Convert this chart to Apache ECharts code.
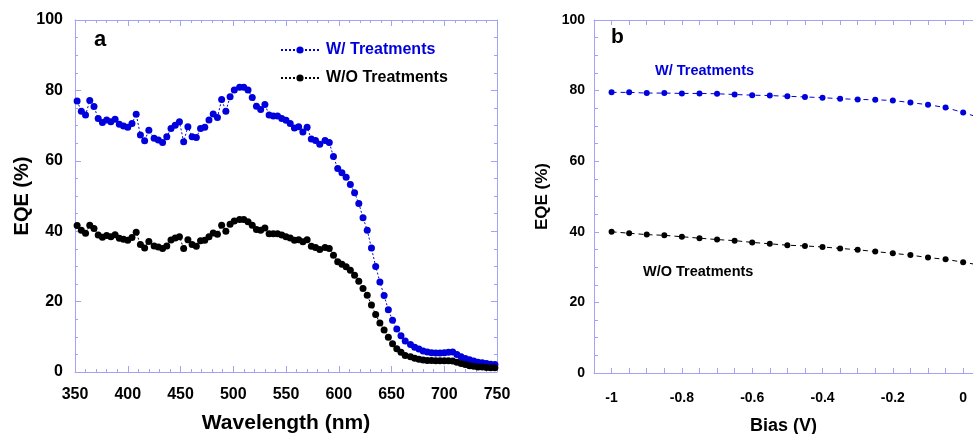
<!DOCTYPE html>
<html>
<head>
<meta charset="utf-8">
<script src="https://cdn.jsdelivr.net/npm/echarts@6/dist/echarts.min.js"></script>
<style>
html,body{margin:0;padding:0;background:#fff;}
#chart{width:973px;height:434px;}
</style>
</head>
<body>
<div id="chart"></div>
<script>
// ---------- Panel a: EQE spectrum ----------
var wavelength = [
 352,356,360,364,368,372,376,380,384,388,
 392,396,400,404,408,412,416,420,425,429,
 433,437,441,445,449,453,457,461,465,469,
 473,477,481,485,489,493,497,501,506,510,
 514,518,522,526,530,534,538,542,546,550,
 554,558,562,566,570,574,578,582,587,591,
 595,599,603,607,611,615,619,623,627,631,
 635,639,643,647,651,655,659,663,668,672,
 676,680,684,688,692,696,700,704,708,712,
 716,720,724,728,732,736,740,744,748
];
var eqeWith = [
 77.0,74.1,73.0,77.1,75.4,72.0,70.9,71.6,71.1,71.8,
 70.4,69.9,69.5,70.6,73.2,67.3,65.7,68.7,66.4,65.9,
 65.2,66.8,69.2,70.1,71.1,65.4,69.7,66.8,66.6,69.2,
 69.5,71.6,73.3,72.3,77.4,74.1,78.2,80.1,80.9,80.9,
 80.1,78.0,75.5,74.6,76.0,73.0,72.7,72.7,72.0,71.5,
 70.6,69.3,69.7,68.2,69.5,66.2,65.8,64.7,65.8,65.2,
 61.2,57.8,56.6,55.3,53.3,50.9,47.9,43.8,40.3,35.2,
 30.0,25.6,21.7,17.7,14.7,12.2,10.3,8.8,7.8,7.0,
 6.5,6.0,5.7,5.5,5.4,5.4,5.5,5.6,5.7,5.0,
 4.3,3.8,3.5,3.1,2.8,2.6,2.4,2.2,2.1
];
var eqeWithout = [
 41.6,40.3,39.4,41.7,40.8,38.9,38.3,38.8,38.4,39.0,
 38.0,37.7,37.4,38.2,39.7,36.2,35.2,37.1,35.8,35.5,
 35.1,35.8,37.5,38.1,38.4,35.1,37.6,36.2,35.7,37.3,
 37.4,38.4,39.5,39.1,41.7,40.0,42.0,42.9,43.3,43.3,
 42.7,41.7,40.5,40.3,40.9,39.3,39.3,39.3,38.9,38.4,
 38.1,37.4,37.6,37.0,37.6,35.7,35.4,34.8,35.4,35.1,
 33.2,31.3,30.6,29.9,28.9,27.5,25.8,23.7,21.8,19.0,
 16.3,13.9,11.9,9.9,8.0,6.6,5.6,4.7,4.3,3.9,
 3.6,3.4,3.3,3.3,3.2,3.2,3.2,3.2,3.1,2.8,
 2.4,2.1,1.8,1.6,1.4,1.4,1.3,1.2,1.2
];
// ---------- Panel b: EQE vs bias ----------
var bias = [-1,-0.95,-0.9,-0.85,-0.8,-0.75,-0.7,-0.65,-0.6,-0.55,-0.5,-0.45,-0.4,-0.35,-0.3,-0.25,-0.2,-0.15,-0.1,-0.05,0,0.05];
var biasWith = [79.5,79.5,79.3,79.3,79.2,79.2,79.1,78.9,78.7,78.6,78.4,78.2,78.0,77.7,77.5,77.4,77.2,76.6,76.0,75.2,73.8,72.2];
var biasWithout = [40.0,39.6,39.2,39.0,38.6,38.2,37.8,37.5,37.0,36.6,36.2,36.0,35.7,35.3,34.9,34.4,33.9,33.4,32.7,32.2,31.4,30.5];

var seriesNames = ['W/ Treatments', 'W/O Treatments'];
var xTicksA = [350, 750, 50];
var xRangeB = [-1.05, 0.028, 0.05];
var yTicks = [0, 100, 20];

var BLUE = '#0000dc';
var BLACK = '#000000';
var AXIS = '#a3a3f5';
var FONT = '"Liberation Sans", Arial, Helvetica, sans-serif';

function pairs(xs, ys){ return xs.map(function(x,i){ return [x, ys[i]]; }); }

var chart = echarts.init(document.getElementById('chart'), null, {renderer:'canvas'});

function axisBase(){
  return {
    axisLine:{show:true, onZero:false, lineStyle:{color:AXIS, width:1}},
    splitLine:{show:false},
    axisTick:{show:true, inside:true, length:6, lineStyle:{color:AXIS}},
    minorTick:{show:true, length:3, lineStyle:{color:AXIS}},
    axisLabel:{show:true, color:'#000', fontWeight:'bold', fontFamily:FONT}
  };
}
function merge(a,b){ for (var k in b){ a[k]=b[k]; } return a; }

var biasFormatter = function(v){
  var r = Math.round(v*5);
  if (Math.abs(v*5 - r) > 1e-6) return '';
  var val = r/5;
  return val === 0 ? '0' : String(val);
};

var option = {
  animation:false,
  backgroundColor:'#fff',
  textStyle:{fontFamily:FONT},
  grid:[
    {left:75, top:20, width:422, height:352, containLabel:false, outerBoundsMode:'none'},
    {left:594, top:20, right:0, height:353, containLabel:false, outerBoundsMode:'none'}
  ],
  legend:{
    show:true,
    orient:'vertical',
    left:275, top:36,
    itemWidth:38, itemHeight:9, itemGap:10,
    data:[
      {name:seriesNames[0], textStyle:{color:BLUE}},
      {name:seriesNames[1], textStyle:{color:BLACK}}
    ],
    textStyle:{fontFamily:FONT, fontWeight:'bold', fontSize:16, lineHeight:18, padding:[0,0,0,2]}
  },
  xAxis:[
    merge(axisBase(), {
      gridIndex:0, type:'value', position:'bottom',
      min:xTicksA[0], max:xTicksA[1], interval:xTicksA[2],
      minorTick:{show:true, splitNumber:5, length:3, lineStyle:{color:AXIS}},
      axisLabel:{show:true, color:'#000', fontWeight:'bold', fontFamily:FONT, fontSize:16, margin:15},
      name:'Wavelength (nm)', nameLocation:'middle', nameGap:41,
      nameTextStyle:{fontSize:21, fontWeight:'bold', color:'#000', fontFamily:FONT}
    }),
    merge(axisBase(), {
      gridIndex:0, type:'value', position:'top',
      min:xTicksA[0], max:xTicksA[1], interval:xTicksA[2],
      minorTick:{show:true, splitNumber:5, length:3, lineStyle:{color:AXIS}},
      axisLabel:{show:false}
    }),
    merge(axisBase(), {
      gridIndex:1, type:'value', position:'bottom',
      min:xRangeB[0], max:xRangeB[1], interval:xRangeB[2],
      axisTick:{show:true, inside:true, length:5, lineStyle:{color:AXIS}},
      minorTick:{show:false},
      axisLabel:{show:true, color:'#000', fontWeight:'bold', fontFamily:FONT, fontSize:14, margin:18, formatter:biasFormatter, showMaxLabel:false},
      name:'Bias (V)', nameLocation:'middle', nameGap:44,
      nameTextStyle:{fontSize:18, fontWeight:'bold', color:'#000', fontFamily:FONT}
    }),
    merge(axisBase(), {
      gridIndex:1, type:'value', position:'top',
      min:xRangeB[0], max:xRangeB[1], interval:xRangeB[2],
      axisTick:{show:true, inside:true, length:5, lineStyle:{color:AXIS}},
      minorTick:{show:false},
      axisLabel:{show:false}
    })
  ],
  yAxis:[
    merge(axisBase(), {
      gridIndex:0, type:'value', position:'left',
      min:yTicks[0], max:yTicks[1], interval:yTicks[2],
      minorTick:{show:true, splitNumber:4, length:3, lineStyle:{color:AXIS}},
      axisLabel:{show:true, color:'#000', fontWeight:'bold', fontFamily:FONT, fontSize:16, margin:12},
      name:'EQE (%)', nameLocation:'middle', nameGap:42,
      nameTextStyle:{fontSize:20, fontWeight:'bold', color:'#000', fontFamily:FONT}
    }),
    merge(axisBase(), {
      gridIndex:0, type:'value', position:'right',
      min:yTicks[0], max:yTicks[1], interval:yTicks[2],
      minorTick:{show:true, splitNumber:4, length:3, lineStyle:{color:AXIS}},
      axisLabel:{show:false}
    }),
    merge(axisBase(), {
      gridIndex:1, type:'value', position:'left',
      min:yTicks[0], max:yTicks[1], interval:yTicks[2],
      axisTick:{show:true, inside:true, length:5, lineStyle:{color:AXIS}},
      minorTick:{show:true, splitNumber:4, length:4, lineStyle:{color:AXIS}},
      axisLabel:{show:true, color:'#000', fontWeight:'bold', fontFamily:FONT, fontSize:14, margin:9},
      name:'EQE (%)', nameLocation:'middle', nameGap:43,
      nameTextStyle:{fontSize:17, fontWeight:'bold', color:'#000', fontFamily:FONT}
    })
  ],
  series:[
    {
      name:seriesNames[0], type:'line', xAxisIndex:0, yAxisIndex:0,
      data:pairs(wavelength, eqeWith),
      symbol:'circle', symbolSize:7, showSymbol:true,
      itemStyle:{color:BLUE},
      lineStyle:{color:BLUE, width:1, type:[2,2]}
    },
    {
      name:seriesNames[1], type:'line', xAxisIndex:0, yAxisIndex:0,
      data:pairs(wavelength, eqeWithout),
      symbol:'circle', symbolSize:7, showSymbol:true,
      itemStyle:{color:BLACK},
      lineStyle:{color:BLACK, width:1, type:[2,2]}
    },
    {
      name:seriesNames[0], type:'line', xAxisIndex:2, yAxisIndex:2,
      data:pairs(bias, biasWith),
      symbol:'circle', symbolSize:6,
      itemStyle:{color:BLUE},
      lineStyle:{color:BLUE, width:1, type:[5,4]}
    },
    {
      name:seriesNames[1], type:'line', xAxisIndex:2, yAxisIndex:2,
      data:pairs(bias, biasWithout),
      symbol:'circle', symbolSize:6,
      itemStyle:{color:BLACK},
      lineStyle:{color:BLACK, width:1, type:[5,4]}
    }
  ],
  graphic:[
    {type:'text', left:94, top:29, style:{text:'a', font:'bold 22px ' + FONT, fill:'#000'}},
    {type:'text', left:611, top:27, style:{text:'b', font:'bold 21px ' + FONT, fill:'#000'}},
    {type:'text', left:655, top:63, style:{text:seriesNames[0], font:'bold 14.5px ' + FONT, fill:BLUE}},
    {type:'text', left:643, top:264, style:{text:seriesNames[1], font:'bold 14.5px ' + FONT, fill:BLACK}}
  ]
};
chart.setOption(option);
</script>
</body>
</html>
